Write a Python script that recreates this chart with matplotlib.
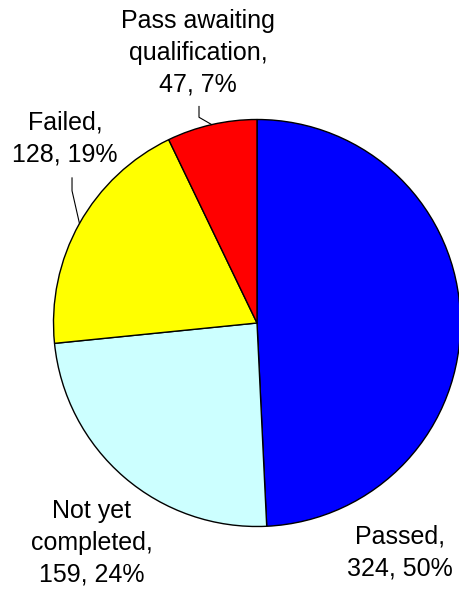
import matplotlib
matplotlib.use("Agg")
import matplotlib.pyplot as plt
import numpy as np

categories = ["Passed", "Not yet completed", "Failed", "Pass awaiting qualification"]
values = [324, 159, 128, 47]
label_texts = ["Passed,\n324, 50%", "Not yet\ncompleted,\n159, 24%",
               "Failed,\n128, 19%", "Pass awaiting\nqualification,\n47, 7%"]
colors = ["#0000FF", "#CCFFFF", "#FFFF00", "#FF0000"]

# label layout (data coords, pie radius = 1)
label_pos = [(0.703, -1.13), (-0.811, -1.081), (-0.943, 0.909), (-0.29, 1.327)]
# leader lines: (elbow, top) for labels that have one
leaders = {2: ((-0.909, 0.65), (-0.909, 0.713)), 3: ((-0.285, 1.011), (-0.285, 1.064))}

W, H = 459, 589
fig = plt.figure(figsize=(W / 100, H / 100), dpi=100)
cx, cy, r = 257, 323, 203.5
ax = fig.add_axes([(cx - r) / W, (H - cy - r) / H, 2 * r / W, 2 * r / H])
wedges, _ = ax.pie(values, colors=colors, startangle=90, counterclock=False,
                   wedgeprops=dict(edgecolor="black", linewidth=1.0), radius=1)
ax.set_xlim(-1, 1)
ax.set_ylim(-1, 1)
ax.set_aspect("equal")
ax.axis("off")

for i, (txt, (x, y)) in enumerate(zip(label_texts, label_pos)):
    ax.text(x, y, txt, ha="center", va="center", fontsize=18,
            family="Liberation Sans", linespacing=1.42, clip_on=False)
    if i in leaders:
        w = wedges[i]
        mid = np.deg2rad((w.theta1 + w.theta2) / 2)
        ex, ey = np.cos(mid), np.sin(mid)
        (elx, ely), (tx, ty) = leaders[i]
        ax.plot([ex, elx, tx], [ey, ely, ty], color="black", lw=0.8, clip_on=False)

fig.savefig("out.png", dpi=100)
